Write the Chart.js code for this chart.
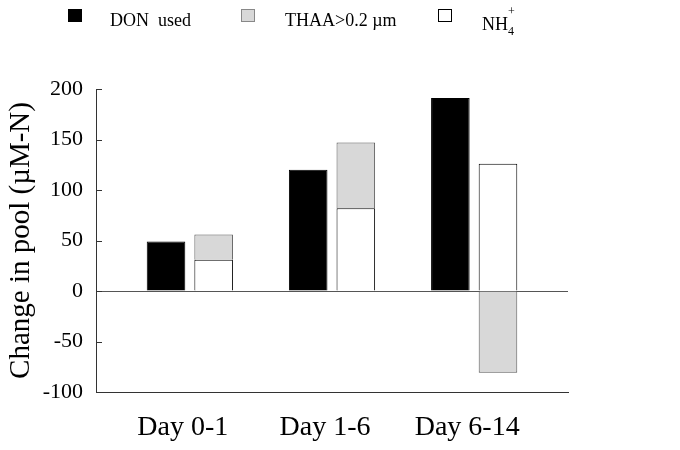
<!DOCTYPE html>
<html>
<head>
<meta charset="utf-8">
<script src="https://cdn.jsdelivr.net/npm/chart.js@4.4.1/dist/chart.umd.min.js"></script>
<style>
  html, body { margin: 0; padding: 0; background: #fff; }
  #wrap { position: relative; width: 680px; height: 450px; }
  #leyenda { position: absolute; top: 4px; left: 0; width: 680px; height: 40px;
    font-family: "Liberation Serif", "Times New Roman", serif; font-size: 18px; color: #000; }
  .item { position: absolute; top: 6px; }
  .caja { position: absolute; top: 5px; width: 14px; height: 13px; border: 1px solid #000; box-sizing: border-box; }
  sub { font-size: 12px; }
  sup { font-size: 12px; }
</style>
</head>
<body>
<div id="wrap">
  <canvas id="grafico" width="680" height="450"></canvas>
  <div id="leyenda">
    <div class="caja" style="left:68px;background:#000"></div>
    <div class="item" style="left:110px">DON&nbsp; used</div>
    <div class="caja" style="left:241px;background:#d8d8d8;border-color:#888"></div>
    <div class="item" style="left:285px">THAA&gt;0.2 µm</div>
    <div class="caja" style="left:438px;background:#fff"></div>
    <div class="item" style="left:482px;top:8px">NH<sub>4</sub><sup style="position:relative;top:-8px;left:-6px">+</sup></div>
  </div>
</div>
<script>
// datos (µM-N)
const dias = ["Day 0-1", "Day 1-6", "Day 6-14"];
const donUsado = [49, 120, 191];
const amonio = [31, 82, 126];
const thaa = [25, 65, -81];

const ticksY = [-100, -50, 0, 50, 100, 150, 200];

const fuente = "'Liberation Serif', 'Times New Roman', serif";

// marcas cortas hacia dentro del eje Y
const marcasInternas = {
    id: 'marcasInternas',
    afterDraw(chart) {
        const y = chart.scales.y;
        const ctx = chart.ctx;
        ctx.save();
        ctx.strokeStyle = '#333';
        ctx.lineWidth = 1;
        ticksY.forEach(v => {
            const py = Math.round(y.getPixelForValue(v)) + 0.5;
            ctx.beginPath();
            ctx.moveTo(chart.chartArea.left, py);
            ctx.lineTo(chart.chartArea.left + 6, py);
            ctx.stroke();
        });
        ctx.restore();
    }
};

const puntos = arr => arr.map((v, i) => ({ x: i, y: v }));

const ctx = document.getElementById('grafico').getContext('2d');
new Chart(ctx, {
    type: 'bar',
    data: {
        datasets: [
            {
                label: 'DON used',
                data: puntos(donUsado),
                backgroundColor: '#000',
                borderColor: '#000',
                borderWidth: 1,
                stack: 'a'
            },
            {
                label: 'NH4+',
                data: puntos(amonio),
                backgroundColor: '#fff',
                borderColor: '#000',
                borderWidth: 1,
                stack: 'b'
            },
            {
                label: 'THAA>0.2 µm',
                data: puntos(thaa),
                backgroundColor: '#d8d8d8',
                borderColor: '#555',
                borderWidth: 1,
                stack: 'b'
            }
        ]
    },
    options: {
        responsive: false,
        animation: false,
        categoryPercentage: 0.67,
        barPercentage: 0.81,
        layout: { padding: { top: 89, right: 112, left: 0, bottom: 0 } },
        plugins: {
            legend: { display: false },
            tooltip: { enabled: false }
        },
        scales: {
            x: {
                type: 'linear',
                offset: false,
                min: -0.66,
                max: 2.66,
                stacked: true,
                afterFit(s) { s.height = 58; },
                grid: { display: false, drawTicks: false },
                border: { display: true, color: '#333', width: 1 },
                ticks: {
                    stepSize: 1,
                    includeBounds: false,
                    autoSkip: false,
                    maxRotation: 0,
                    padding: 19,
                    labelOffset: -7,
                    color: '#000',
                    font: { family: fuente, size: 28 },
                    callback: v => dias[v] !== undefined ? dias[v] : ''
                }
            },
            y: {
                min: -100,
                max: 200,
                stacked: true,
                afterFit(s) { s.width = 96; },
                grid: {
                    drawTicks: false,
                    color: c => c.tick && c.tick.value === 0 ? '#555' : 'rgba(0,0,0,0)',
                    lineWidth: 1
                },
                border: { display: true, color: '#333', width: 1 },
                ticks: {
                    stepSize: 50,
                    padding: 13,
                    color: '#000',
                    font: { family: fuente, size: 22 }
                },
                title: {
                    display: true,
                    text: 'Change in pool (µM-N)',
                    color: '#000',
                    font: { family: fuente, size: 29 },
                    padding: { top: 4, bottom: 0 }
                }
            }
        }
    },
    plugins: [marcasInternas]
});
</script>
</body>
</html>
